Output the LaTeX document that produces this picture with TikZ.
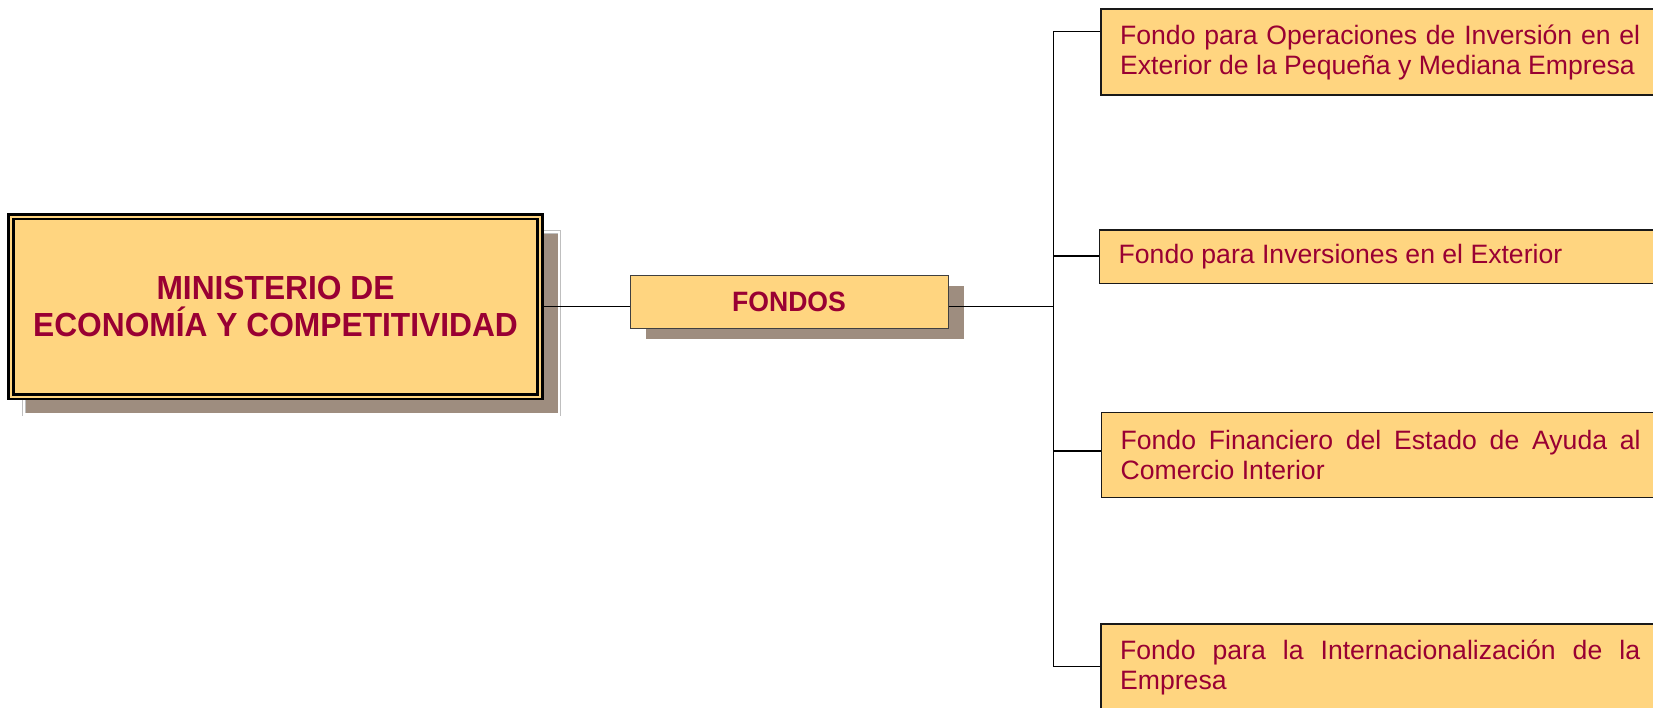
\documentclass[tikz,border=0pt]{standalone}
\usepackage{fontspec}
\setmainfont{Liberation Sans}
\newfontfamily\titlefont[FakeStretch=0.95]{Liberation Sans}
\usetikzlibrary{shadows}
\definecolor{boxfill}{RGB}{255,213,128}
\definecolor{boxtext}{RGB}{153,0,51}
\definecolor{shadowbrown}{RGB}{158,141,127}
\newcommand{\fondofont}{\fontsize{13.3}{15}\selectfont
  \tolerance=9999\relax\hyphenpenalty=10000\relax}

\begin{document}
\begin{tikzpicture}
[-,x=0.5pt,y=-0.5pt,line width=0.75pt,%
  every node/.style={shape=rectangle,fill=boxfill,text=boxtext,inner sep=0pt},%
  ministerio/.style={draw,line width=1.2pt,double=boxfill,double distance=1.15pt,%
    minimum width=264.5pt,minimum height=90pt,align=center,%
    font=\titlefont\bfseries\fontsize{16.7}{18.5}\selectfont,%
    drop shadow={shadow xshift=8pt,shadow yshift=-8.2pt,shadow scale=1.012,opacity=1,%
      fill=shadowbrown,draw=black!25,double=white,line width=0.35pt,double distance=1.1pt}},%
  fondos/.style={draw=black!75,line width=0.5pt,minimum width=159pt,minimum height=26.5pt,%
    font=\titlefont\bfseries\fontsize{14}{16}\selectfont,%
    drop shadow={shadow xshift=8pt,shadow yshift=-5.25pt,opacity=1,fill=shadowbrown,draw=none}},%
  fondo/.style={draw=black!90,line width=0.75pt,anchor=west,text width=260pt,align=justify,%
    inner xsep=9.7pt,font=\fondofont}]
\useasboundingbox (0,0) rectangle (1653,707);
\clip (0,0) rectangle (1653,707);
\node[ministerio] (min) at (275.5,306.7) {MINISTERIO DE\\ECONOMÍA Y COMPETITIVIDAD};
\node[fondos] (fon) at (789,301.5) {FONDOS};
\node[fondo,minimum height=43pt] (f1) at (1100,52)
  {Fondo para Operaciones de Inversión en el Exterior de la Pequeña y Mediana Empresa};
\node[fondo,minimum height=26.8pt] (f2) at (1098.5,256.8)
  {Fondo para Inversiones en el Exterior};
\node[fondo,minimum height=42.5pt] (f3) at (1100.5,454.8)
  {Fondo Financiero del Estado de Ayuda al Comercio Interior};
\node[fondo,minimum height=43pt] (f4) at (1100,667)
  {Fondo para la Internacionalización de la Empresa};
% bus bar
\coordinate (bus1) at (1053.5,31.7);
\coordinate (bus2) at (1053.5,256.2);
\coordinate (bus3) at (1053.5,451.2);
\coordinate (bus4) at (1053.5,666.3);
\draw (min.east) -- (min.east -| fon.west);
\draw (min.east -| fon.east) -- (min.east -| bus1);
\draw (bus1 -| f1.west) -- (bus1) -- (bus4) -- (bus4 -| f4.west);
\foreach \i in {2,3}
  \draw (bus\i) -- (bus\i -| f\i.west);
\end{tikzpicture}
\end{document}
